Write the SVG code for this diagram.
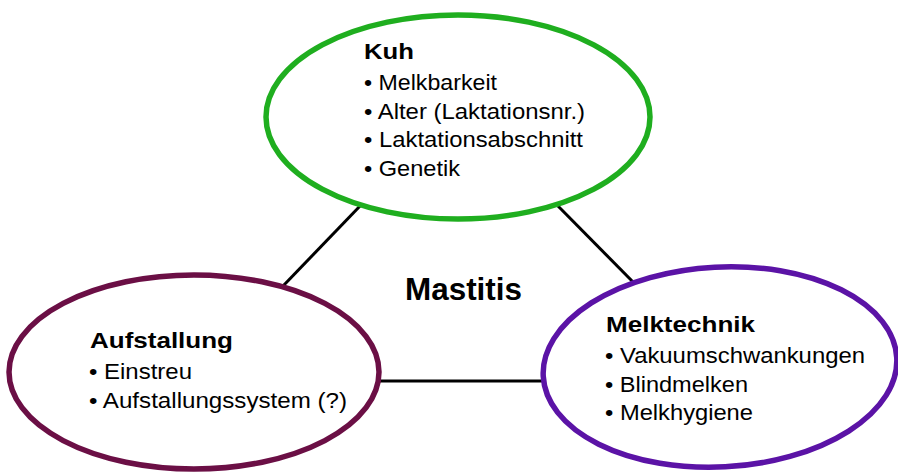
<svg xmlns="http://www.w3.org/2000/svg" width="898" height="472" viewBox="0 0 898 472">
<style>
.ell{fill:#ffffff;stroke-width:5.5}
.t{font-family:"Liberation Sans",Arial,sans-serif;fill:#000000}
.h{font-size:22.5px;font-weight:bold}
.b{font-size:21.5px}
.m{font-size:31px;font-weight:bold}
.c{stroke:#000000;stroke-width:3;fill:none}
</style>
<rect width="898" height="472" fill="#ffffff"/>
<g id="connectors">
<line class="c" x1="361" y1="205" x2="283" y2="286"/>
<line class="c" x1="556" y1="204" x2="637" y2="286"/>
<line class="c" x1="379" y1="381" x2="543" y2="381"/>
</g>
<g id="kuh">
<ellipse class="ell" cx="458" cy="117" rx="192" ry="102" stroke="#1fae1f"/>
<text class="t h" x="364" y="59" textLength="50" lengthAdjust="spacingAndGlyphs">Kuh</text>
<text class="t b" x="364" y="90" textLength="133" lengthAdjust="spacingAndGlyphs">• Melkbarkeit</text>
<text class="t b" x="364" y="118.5" textLength="221" lengthAdjust="spacingAndGlyphs">• Alter (Laktationsnr.)</text>
<text class="t b" x="364" y="147" textLength="219" lengthAdjust="spacingAndGlyphs">• Laktationsabschnitt</text>
<text class="t b" x="364" y="175.5" textLength="96" lengthAdjust="spacingAndGlyphs">• Genetik</text>
</g>
<g id="mastitis">
<text class="t m" x="405" y="300" textLength="117" lengthAdjust="spacingAndGlyphs">Mastitis</text>
</g>
<g id="aufstallung">
<ellipse class="ell" cx="194" cy="372" rx="185" ry="97" stroke="#6b0f45"/>
<text class="t h" x="90" y="348" textLength="143" lengthAdjust="spacingAndGlyphs">Aufstallung</text>
<text class="t b" x="89" y="379" textLength="103" lengthAdjust="spacingAndGlyphs">• Einstreu</text>
<text class="t b" x="89" y="408" textLength="258" lengthAdjust="spacingAndGlyphs">• Aufstallungssystem (?)</text>
</g>
<g id="melktechnik">
<ellipse class="ell" cx="720" cy="367" rx="177" ry="100" stroke="#5b13a6" transform="rotate(-3 720 367)"/>
<text class="t h" x="606" y="332" textLength="149" lengthAdjust="spacingAndGlyphs">Melktechnik</text>
<text class="t b" x="605" y="363" textLength="260" lengthAdjust="spacingAndGlyphs">• Vakuumschwankungen</text>
<text class="t b" x="605" y="392" textLength="143" lengthAdjust="spacingAndGlyphs">• Blindmelken</text>
<text class="t b" x="605" y="420" textLength="148" lengthAdjust="spacingAndGlyphs">• Melkhygiene</text>
</g>
</svg>
